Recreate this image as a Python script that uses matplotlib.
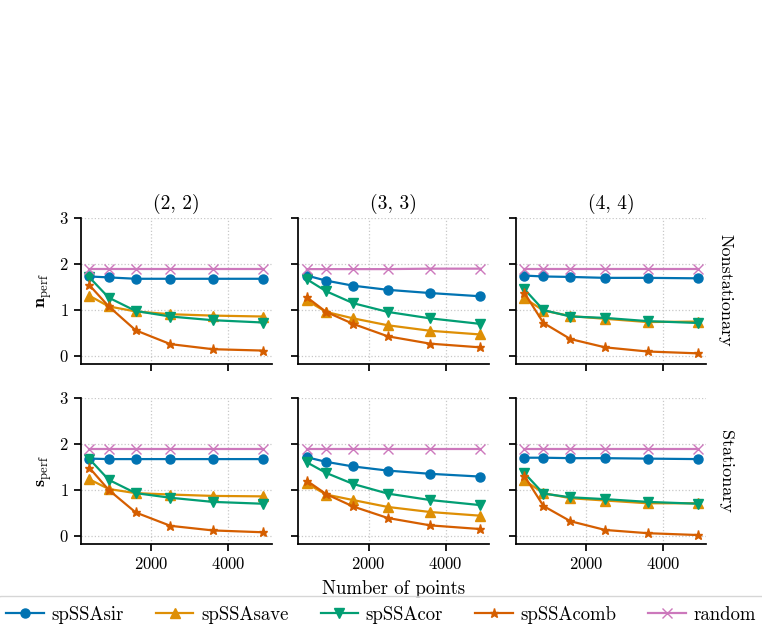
#!/usr/bin/env python
# -*- coding: utf-8 -*-
"""Perfomance of spSSA variants vs number of points."""
import matplotlib
matplotlib.use("Agg")
import matplotlib.pyplot as plt

# x positions (number of points)
n_points = [400, 900, 1600, 2500, 3600, 4900]

panel_titles = ["(2, 2)", "(3, 3)", "(4, 4)"]
row_labels = ["Nonstationary", "Stationary"]
row_ylabels = [r"$\mathbf{n}_{\mathrm{perf}}$", r"$\mathbf{s}_{\mathrm{perf}}$"]
methods = ["spSSAsir", "spSSAsave", "spSSAcor", "spSSAcomb", "random"]

# Nonstationary row, one list per panel
ns_sir = [[1.72, 1.70, 1.67, 1.67, 1.67, 1.67],
          [1.74, 1.63, 1.52, 1.43, 1.36, 1.29],
          [1.74, 1.72, 1.71, 1.69, 1.69, 1.68]]
ns_save = [[1.30, 1.07, 0.96, 0.90, 0.87, 0.85],
           [1.20, 0.95, 0.81, 0.66, 0.54, 0.46],
           [1.25, 0.98, 0.86, 0.80, 0.73, 0.74]]
ns_cor = [[1.70, 1.26, 0.97, 0.85, 0.77, 0.72],
          [1.66, 1.40, 1.14, 0.95, 0.81, 0.69],
          [1.45, 0.99, 0.85, 0.82, 0.75, 0.71]]
ns_comb = [[1.53, 1.07, 0.55, 0.25, 0.14, 0.11],
           [1.27, 0.95, 0.69, 0.42, 0.26, 0.18],
           [1.37, 0.71, 0.36, 0.18, 0.09, 0.05]]
ns_random = [[1.88, 1.88, 1.88, 1.88, 1.88, 1.88],
             [1.88, 1.88, 1.88, 1.88, 1.89, 1.89],
             [1.88, 1.88, 1.88, 1.88, 1.88, 1.88]]

# Stationary row
st_sir = [[1.68, 1.67, 1.67, 1.67, 1.67, 1.67],
          [1.71, 1.61, 1.51, 1.42, 1.35, 1.29],
          [1.70, 1.70, 1.69, 1.69, 1.68, 1.67]]
st_save = [[1.23, 1.02, 0.93, 0.90, 0.87, 0.86],
           [1.14, 0.90, 0.78, 0.63, 0.52, 0.44],
           [1.21, 0.93, 0.82, 0.77, 0.71, 0.71]]
st_cor = [[1.67, 1.22, 0.93, 0.83, 0.74, 0.70],
          [1.60, 1.37, 1.13, 0.92, 0.78, 0.67],
          [1.37, 0.92, 0.84, 0.80, 0.74, 0.70]]
st_comb = [[1.48, 1.00, 0.51, 0.22, 0.12, 0.08],
           [1.20, 0.91, 0.64, 0.39, 0.23, 0.15],
           [1.31, 0.65, 0.32, 0.13, 0.06, 0.02]]
st_random = [[1.88, 1.88, 1.88, 1.88, 1.88, 1.88],
             [1.88, 1.88, 1.88, 1.88, 1.88, 1.88],
             [1.88, 1.88, 1.88, 1.88, 1.88, 1.88]]

colors = ["#0173b2", "#de8f05", "#029e73", "#d55e00", "#cc78bc"]
markers = ["o", "^", "v", "*", "x"]

plt.rcParams["font.family"] = "serif"
plt.rcParams["font.serif"] = ["cmr10"]
plt.rcParams["mathtext.fontset"] = "cm"
plt.rcParams["axes.formatter.use_mathtext"] = True
plt.rcParams["axes.unicode_minus"] = False


def main():
    rows = [[ns_sir, ns_save, ns_cor, ns_comb, ns_random],
            [st_sir, st_save, st_cor, st_comb, st_random]]

    fig, axes = plt.subplots(2, 3, figsize=(7.62, 6.27), dpi=100,
                             sharex=True, sharey=True)
    fig.subplots_adjust(left=0.106, right=0.927, top=0.653, bottom=0.132,
                        wspace=0.139, hspace=0.232)

    handles = []
    for r in range(2):
        for c in range(3):
            ax = axes[r, c]
            for m in range(5):
                line, = ax.plot(n_points, rows[r][m][c], color=colors[m],
                                marker=markers[m], markersize=6.5,
                                linewidth=1.6, label=methods[m])
                if r == 0 and c == 0:
                    handles.append(line)
            ax.set_ylim(-0.18, 3)
            ax.set_yticks([0, 1, 2, 3])
            ax.set_xticks([2000, 4000])
            ax.grid(True, linestyle=":", color="#c8c8c8", linewidth=0.9)
            ax.spines["top"].set_visible(False)
            ax.spines["right"].set_visible(False)
            ax.spines["left"].set_linewidth(1.25)
            ax.spines["bottom"].set_linewidth(1.25)
            ax.tick_params(labelsize=12, length=5, width=1.25)
            if r == 0:
                ax.set_title(panel_titles[c], fontsize=14)
            if c == 0:
                ax.set_ylabel(row_ylabels[r], fontsize=13)
            if c == 2:
                ax.text(1.10, 0.5, row_labels[r], transform=ax.transAxes,
                        rotation=270, ha="center", va="center", fontsize=13)
    axes[1, 1].set_xlabel("Number of points", fontsize=13.5, labelpad=5.5)

    # legend frame runs past both figure edges, as in the original
    fig.legend(handles, methods, loc="upper left", ncol=5, fontsize=13.5,
               bbox_to_anchor=(-3 / 762, 1 - 597 / 627, 768 / 762, 0.001),
               mode="expand", borderaxespad=0, borderpad=0.5,
               handlelength=2.0, handletextpad=0.4, frameon=True)

    fig.savefig("out.png", dpi=100)


if __name__ == "__main__":
    main()
